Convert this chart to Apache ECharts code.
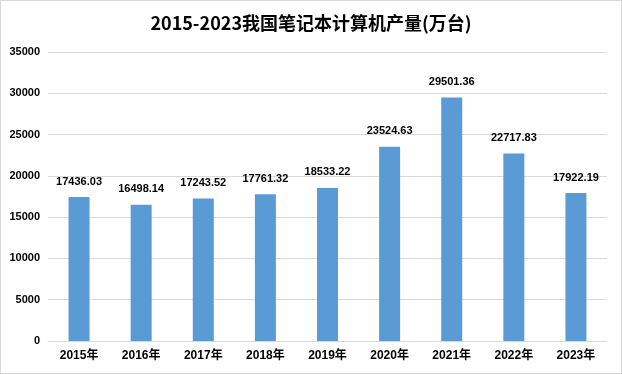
<!DOCTYPE html>
<html><head><meta charset="utf-8">
<script src="https://cdn.jsdelivr.net/npm/echarts@6/dist/echarts.min.js"></script>
<style>html,body{margin:0;padding:0;background:#fff}#c{width:620px;height:372px;border:1px solid #d9d9d9}</style>
</head><body><div id="c"></div>
<script>
var categories = ['2015年','2016年','2017年','2018年','2019年','2020年','2021年','2022年','2023年'];
var values = [17436.03,16498.14,17243.52,17761.32,18533.22,23524.63,29501.36,22717.83,17922.19];
var chart = echarts.init(document.getElementById('c'));
var font = '"Liberation Sans", "Noto Sans CJK SC", sans-serif';
chart.setOption({
  animation:false,
  title:{text:'2015-2023我国笔记本计算机产量(万台)',left:'center',top:8,textStyle:{fontSize:18,fontWeight:'bold',color:'#000',fontFamily:'"Noto Sans CJK SC", sans-serif'}},
  grid:{left:47,right:14,top:51,bottom:32},
  xAxis:{type:'category',data:categories,axisTick:{show:false},axisLine:{lineStyle:{color:'#d9d9d9'}},
    axisLabel:{color:'#000',fontSize:12,fontWeight:'bold',fontFamily:font,margin:9}},
  yAxis:{type:'value',min:0,max:35000,interval:5000,axisLine:{show:false},axisTick:{show:false},
    splitLine:{lineStyle:{color:'#d9d9d9'}},
    axisLabel:{color:'#000',fontSize:11,fontWeight:'bold',fontFamily:font,margin:8,formatter:function(v){return String(v);}}},
  series:[{type:'bar',data:values,barWidth:21,itemStyle:{color:'#5b9bd5'},
    label:{show:true,position:'top',distance:10,color:'#000',fontSize:11,fontWeight:'bold',fontFamily:font,
      formatter:function(p){return p.value.toFixed(2);}}}]
});
</script></body></html>
